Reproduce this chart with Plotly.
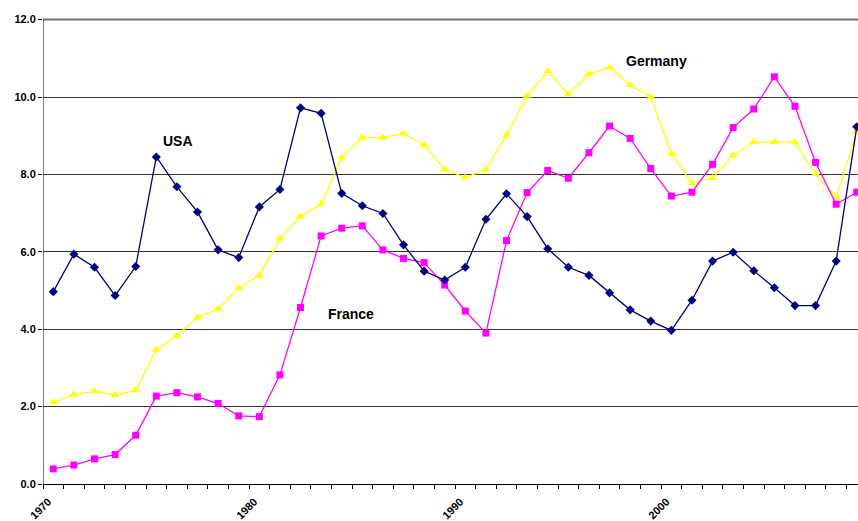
import plotly.graph_objects as go

years = list(range(1970, 2010))
usa = [4.97, 5.94, 5.60, 4.87, 5.62, 8.45, 7.68, 7.03, 6.05, 5.85,
       7.16, 7.61, 9.72, 9.58, 7.51, 7.19, 6.99, 6.18, 5.50, 5.27,
       5.60, 6.84, 7.50, 6.91, 6.08, 5.60, 5.39, 4.94, 4.50, 4.21,
       3.97, 4.75, 5.76, 5.99, 5.51, 5.07, 4.61, 4.61, 5.76, 9.23]
germany = [2.11, 2.31, 2.40, 2.30, 2.42, 3.47, 3.83, 4.31, 4.52, 5.07,
           5.39, 6.34, 6.91, 7.23, 8.44, 8.95, 8.95, 9.06, 8.76, 8.13,
           7.92, 8.13, 9.01, 10.03, 10.67, 10.07, 10.59, 10.76, 10.31, 10.00,
           8.54, 7.77, 7.91, 8.49, 8.83, 8.84, 8.83, 8.01, 7.41, 9.10]
france = [0.39, 0.49, 0.65, 0.76, 1.26, 2.27, 2.36, 2.25, 2.08, 1.76,
          1.74, 2.82, 4.56, 6.41, 6.61, 6.67, 6.05, 5.83, 5.72, 5.14,
          4.47, 3.90, 6.29, 7.53, 8.10, 7.90, 8.56, 9.25, 8.93, 8.15,
          7.44, 7.54, 8.26, 9.21, 9.69, 10.52, 9.76, 8.31, 7.23, 7.54]
x_labels = [1970, 1980, 1990, 2000]
y_ticks = [0, 2, 4, 6, 8, 10, 12]

fig = go.Figure()
fig.add_trace(go.Scatter(x=years, y=germany, mode="lines+markers", name="Germany",
                         line=dict(color="#FFFF00", width=1.3),
                         marker=dict(symbol="triangle-up", size=8, color="#FFFF00")))
fig.add_trace(go.Scatter(x=years, y=france, mode="lines+markers", name="France",
                         line=dict(color="#FF00FF", width=1.3),
                         marker=dict(symbol="square", size=7, color="#FF00FF")))
fig.add_trace(go.Scatter(x=years, y=usa, mode="lines+markers", name="USA",
                         line=dict(color="#000080", width=1.3),
                         marker=dict(symbol="diamond", size=7, color="#000080")))

font_family = "Liberation Sans, Arial, sans-serif"
fig.update_layout(
    width=858, height=521,
    margin=dict(l=43, r=0, t=8, b=37, autoexpand=False),
    plot_bgcolor="white", paper_bgcolor="white",
    showlegend=False,
    font=dict(family=font_family, color="black"),
    xaxis=dict(range=[1969.5, 2009.06], tickmode="array", tickvals=x_labels,
               ticktext=[str(v) for v in x_labels], tickangle=-45,
               ticks="", showgrid=False, zeroline=False, automargin=False,
               showline=True, linecolor="black", linewidth=1,
               ticklabelstandoff=6, ticklabelshift=-5,
               tickfont=dict(size=11, family=font_family, weight="bold"),
               minor=dict(tick0=1969.5, dtick=1, ticks="outside", ticklen=4,
                          tickcolor="black", showgrid=False)),
    yaxis=dict(range=[0, 12.3], tickmode="array", tickvals=y_ticks, tickformat=".1f",
               ticks="outside", ticklen=4, tickcolor="black", automargin=False,
               showgrid=True, gridcolor="#333333", gridwidth=1, zeroline=False,
               showline=False,
               tickfont=dict(size=11, family=font_family, weight="bold")),
    shapes=[
        dict(type="line", xref="x", yref="y", x0=1969.5, x1=1969.5, y0=0, y1=12,
             line=dict(color="black", width=1), layer="above"),
        dict(type="line", xref="x", yref="y", x0=1969.5, x1=2009.06, y0=12, y1=12,
             line=dict(color="#707070", width=2), layer="above"),
    ],
)

for text, xv, yv in [("USA", 1976.05, 8.86), ("Germany", 1999.3, 10.92), ("France", 1984.45, 4.4)]:
    fig.add_annotation(x=xv, y=yv, text="<b>%s</b>" % text, showarrow=False,
                       font=dict(size=14, family=font_family, color="black"))

fig.write_html("out.html")
